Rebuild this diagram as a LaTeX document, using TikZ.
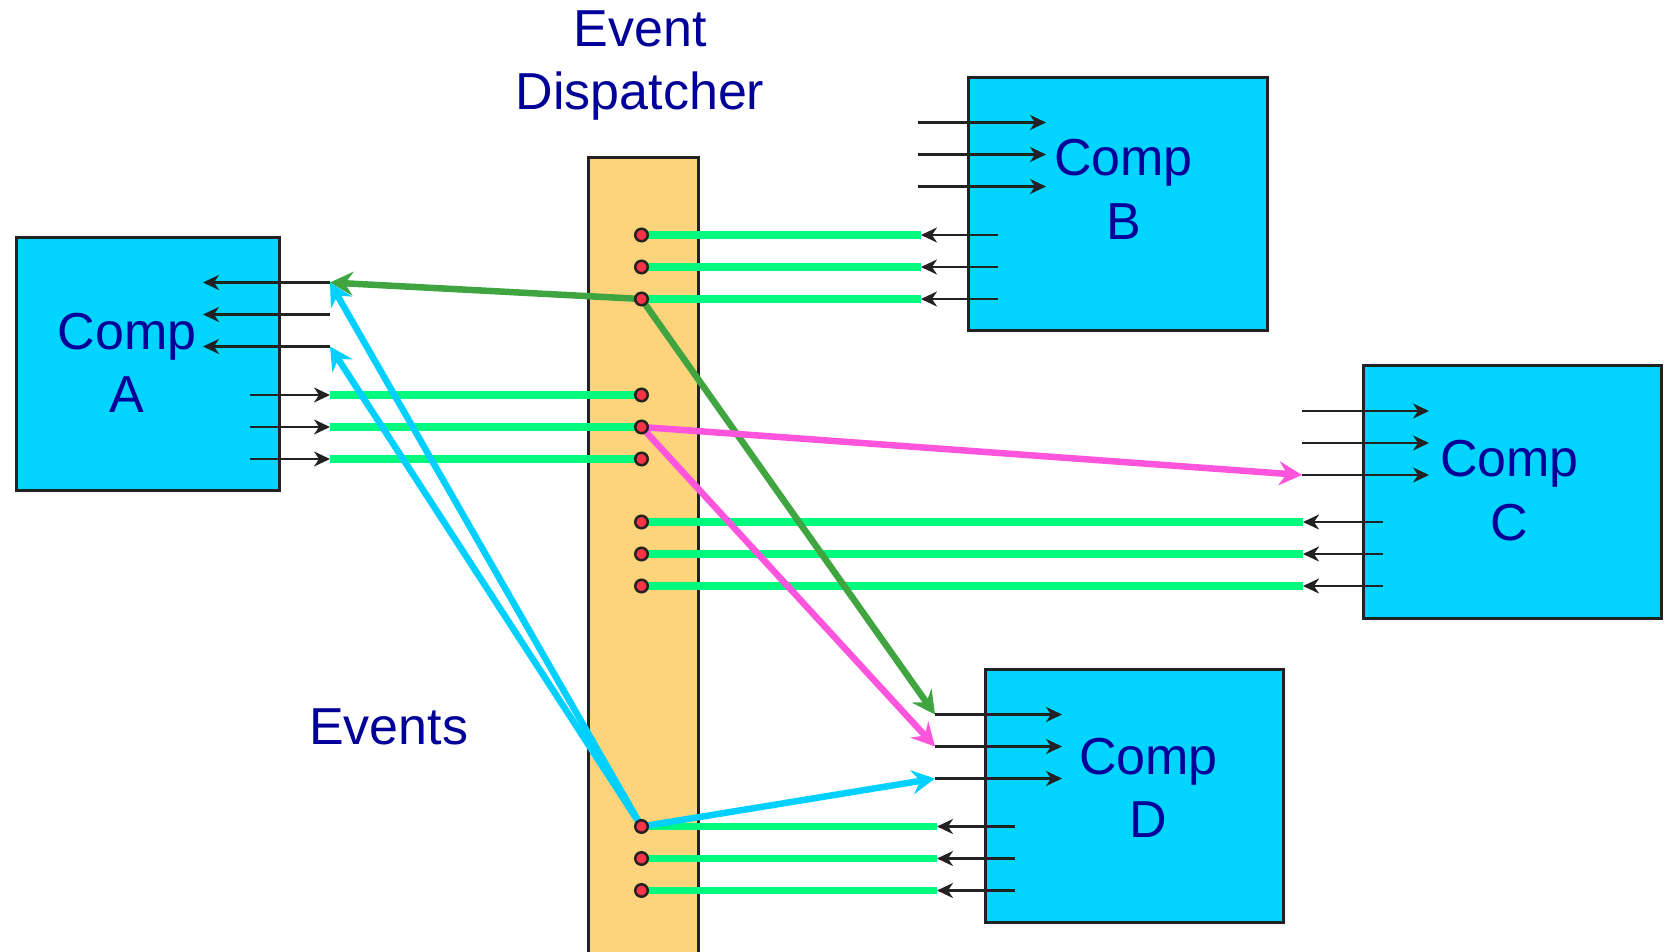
\documentclass[tikz,border=0pt]{standalone}
\usepackage{fontspec}
\setmainfont{Liberation Sans}
\usetikzlibrary{arrows.meta}
\definecolor{boxcyan}{RGB}{0,212,255}
\definecolor{txtblue}{RGB}{0,0,153}
\definecolor{dispfill}{RGB}{253,212,124}
\definecolor{linegreen}{RGB}{0,250,125}
\definecolor{evgreen}{RGB}{64,164,64}
\definecolor{evpink}{RGB}{255,85,221}
\definecolor{evcyan}{RGB}{0,208,255}
\definecolor{dotred}{RGB}{248,52,70}
\definecolor{edgegray}{RGB}{34,34,34}
\pgfdeclarelayer{bglayer}
\pgfdeclarelayer{midlayer}
\pgfsetlayers{bglayer,midlayer,main}
\begin{document}
\begin{tikzpicture}[x=1pt,y=-1pt,
  compbox/.style={draw=edgegray, line width=3pt, fill=boxcyan, inner sep=0pt, anchor=north west},
  dispbox/.style={draw=edgegray, line width=3pt, fill=dispfill, inner sep=0pt, anchor=north west},
  lbl/.style={text=txtblue, font=\fontsize{52}{63.3}\selectfont, align=center, inner sep=0pt},
  port/.style={draw=edgegray, line width=2.5pt, -{Stealth[length=16pt,width=15pt,inset=5pt]}},
  wire/.style={draw=linegreen, line width=7.5pt},
  ev/.style={line width=6.5pt, -{Stealth[length=23pt,width=24pt,inset=8pt]}},
  evdot/.style={circle, draw=edgegray, line width=2.5pt, fill=dotred, minimum size=12.5pt, inner sep=0pt},
]
\useasboundingbox (0,0) rectangle (1665,952);
\clip (0,0) rectangle (1665,952);

% ---- port coordinates ----
\foreach \i/\y in {1/282.5,2/314.5,3/346.5}{
  \coordinate (Ain\i) at (330,\y); \coordinate (Ain\i-t) at (203,\y);}
\foreach \i/\y in {1/395,2/427,3/459}{
  \coordinate (Aout\i-s) at (250,\y); \coordinate (Aout\i) at (330,\y);}
\foreach \i/\y in {1/122.5,2/154.5,3/186.5}{
  \coordinate (Bin\i) at (918,\y); \coordinate (Bin\i-t) at (1046,\y);}
\foreach \i/\y in {1/235,2/267,3/299}{
  \coordinate (Bout\i-s) at (998,\y); \coordinate (Bout\i) at (921,\y);}
\foreach \i/\y in {1/411,2/443,3/475}{
  \coordinate (Cin\i) at (1302,\y); \coordinate (Cin\i-t) at (1429,\y);}
\foreach \i/\y in {1/522,2/554,3/586}{
  \coordinate (Cout\i-s) at (1383,\y); \coordinate (Cout\i) at (1303,\y);}
\foreach \i/\y in {1/714.5,2/746.5,3/778.5}{
  \coordinate (Din\i) at (935,\y); \coordinate (Din\i-t) at (1062,\y);}
\foreach \i/\y in {1/826.5,2/858.5,3/890.5}{
  \coordinate (Dout\i-s) at (1015,\y); \coordinate (Dout\i) at (937,\y);}

% ---- boxes ----
\begin{pgfonlayer}{bglayer}
\node[compbox, minimum width=263pt, minimum height=253pt] (boxA) at (15,236) {};
\node[compbox, minimum width=299pt, minimum height=253pt] (boxB) at (967,76) {};
\node[compbox, minimum width=298pt, minimum height=253pt] (boxC) at (1362,364) {};
\node[compbox, minimum width=298pt, minimum height=253pt] (boxD) at (984,668) {};
\node[dispbox, minimum width=110pt, minimum height=830pt] (disp) at (587,156) {};
\end{pgfonlayer}

% ---- labels ----
\node[lbl] (labA) at (127,362.7) {Comp\\A};
\node[lbl] (labB) at (1123.5,189.4) {Comp\\B};
\node[lbl] (labC) at (1509.5,490.7) {Comp\\C};
\node[lbl] (labD) at (1148.5,787.7) {Comp\\D};
\node[lbl] (labDisp) at (640,65.2) {Event\\Dispatcher};
\node[lbl] (labEv) at (388.7,726.4) {Events};

% ---- dispatcher dots ----
\foreach \n/\y in {B1/235,B2/267,B3/299,A1/395,A2/427,A3/459,C1/522,C2/554,C3/586,D1/826.5,D2/858.5,D3/890.5}{
  \node[evdot] (d\n) at (641.5,\y) {};}

% ---- wires and events ----
\begin{pgfonlayer}{midlayer}
\foreach \i in {1,2,3}{
  \draw[wire] (dA\i.center) -- (Aout\i);
  \draw[wire] (dB\i.center) -- (Bout\i);
  \draw[wire] (dC\i.center) -- (Cout\i);
  \draw[wire] (dD\i.center) -- (Dout\i);}
\draw[ev, evgreen] (dB3.center) -- (Ain1);
\draw[ev, evgreen] (dB3.center) -- (Din1);
\draw[ev, evpink] (dA2.center) -- (Cin3);
\draw[ev, evpink] (dA2.center) -- (Din2);
\draw[ev, evcyan] (dD1.center) -- (Ain1);
\draw[ev, evcyan] (dD1.center) -- (Ain3);
\draw[ev, evcyan] (dD1.center) -- (Din3);
\end{pgfonlayer}

% ---- port arrows ----
\foreach \i in {1,2,3}{
  \draw[port] (Ain\i) -- (Ain\i-t);
  \draw[port] (Aout\i-s) -- (Aout\i);
  \draw[port] (Bin\i) -- (Bin\i-t);
  \draw[port] (Bout\i-s) -- (Bout\i);
  \draw[port] (Cin\i) -- (Cin\i-t);
  \draw[port] (Cout\i-s) -- (Cout\i);
  \draw[port] (Din\i) -- (Din\i-t);
  \draw[port] (Dout\i-s) -- (Dout\i);}
\end{tikzpicture}
\end{document}
